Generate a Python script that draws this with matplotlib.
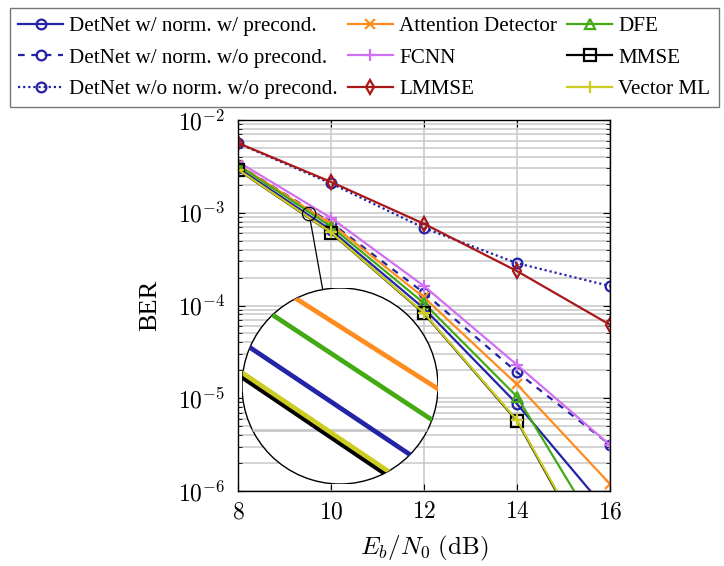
import numpy as np
import matplotlib
matplotlib.use("Agg")
import matplotlib.pyplot as plt
from matplotlib.patches import Ellipse
from matplotlib.lines import Line2D
from matplotlib.ticker import FixedLocator, FuncFormatter, LogLocator, NullFormatter

plt.rcParams['font.family'] = 'serif'
plt.rcParams['font.serif'] = ['Liberation Serif', 'DejaVu Serif']
plt.rcParams['mathtext.fontset'] = 'cm'

# Eb/N0 (dB)
snr = [8, 10, 12, 14, 16]

# BER per detector
detnet_norm_pre = [3.05e-3, 6.5e-4, 9.3e-5, 8.7e-6, 5.6e-7]
detnet_norm_nopre = [3.3e-3, 7.8e-4, 1.37e-4, 1.91e-5, 3.15e-6]
detnet_nonorm_nopre = [5.6e-3, 2.07e-3, 6.85e-4, 2.86e-4, 1.62e-4]
attention = [3.3e-3, 7.6e-4, 1.22e-4, 1.41e-5, 1.19e-6]
fcnn = [3.55e-3, 8.8e-4, 1.62e-4, 2.29e-5, 3.13e-6]
lmmse = [5.65e-3, 2.15e-3, 7.6e-4, 2.35e-4, 6.2e-5]
dfe = [3.25e-3, 7.1e-4, 1.06e-4, 1.04e-5, 2.3e-7]
mmse = [2.9e-3, 6.1e-4, 8.2e-5, 5.7e-6, 9.0e-8]
vector_ml = [2.92e-3, 6.15e-4, 8.3e-5, 5.8e-6, 9.5e-8]

blue = '#2323a8'
series = [
    (detnet_norm_pre, 'DetNet w/ norm. w/ precond.', blue, '-', 'o'),
    (detnet_norm_nopre, 'DetNet w/ norm. w/o precond.', blue, (0, (3, 3)), 'o'),
    (detnet_nonorm_nopre, 'DetNet w/o norm. w/o precond.', blue, (0, (1, 1.3)), 'o'),
    (attention, 'Attention Detector', '#ff8c1e', '-', 'x'),
    (fcnn, 'FCNN', '#d070f0', '-', '+'),
    (lmmse, 'LMMSE', '#a81818', '-', 'd'),
    (dfe, 'DFE', '#44aa14', '-', '^'),
    (mmse, 'MMSE', 'black', '-', 's'),
    (vector_ml, 'Vector ML', '#cccc22', '-', '+'),
]
# curves shown in the magnified circle
inset_curves = [7, 8, 0, 6, 3]

W, H = 724, 566
fig = plt.figure(figsize=(W / 100, H / 100), dpi=100)
# axes box in pixels
x0, x1, y0, y1 = 238, 610, 120, 491
ax = fig.add_axes([x0 / W, 1 - y1 / H, (x1 - x0) / W, (y1 - y0) / H])

handles = []
for vals, lab, col, ls, mk in series:
    ms = 8.5 if mk in ('+', 's') else 7
    h, = ax.plot(snr, vals, color=col, linestyle=ls, marker=mk, markersize=ms,
                 markerfacecolor='none', markeredgewidth=1.6, linewidth=1.6, label=lab)
    handles.append(h)

ax.set_yscale('log')
ax.set_xlim(8, 16)
ax.set_ylim(1e-6, 1e-2)
ax.xaxis.set_major_locator(FixedLocator([8, 10, 12, 14, 16]))
ax.xaxis.set_major_formatter(FuncFormatter(lambda v, p: r'$%d$' % v))
ax.yaxis.set_major_locator(LogLocator(base=10, numticks=10))
ax.yaxis.set_minor_locator(LogLocator(base=10, subs=np.arange(2, 10), numticks=10))
ax.yaxis.set_major_formatter(FuncFormatter(lambda v, p: r'$10^{%d}$' % round(np.log10(v))))
ax.yaxis.set_minor_formatter(NullFormatter())
ax.tick_params(which='both', direction='in', top=True, right=True, labelsize=17)
ax.tick_params(axis='x', pad=8)
ax.tick_params(axis='y', pad=9)
ax.tick_params(which='major', length=5)
ax.tick_params(which='minor', length=3)
ax.grid(True, which='major', axis='both', color='#c8c8c8', linewidth=1.1)
ax.grid(True, which='minor', axis='y', color='#c8c8c8', linewidth=1.1)
ax.set_axisbelow(True)
for s in ax.spines.values():
    s.set_linewidth(1.0)
ax.set_xlabel(r'$E_b/N_0\ \mathrm{(dB)}$', fontsize=18, labelpad=8)
ax.set_ylabel('BER', fontsize=19, labelpad=12)

# zoom circle
zx, zy, mag = 9.53, 9.7e-4, 14.6
R = 98
cx = x0 + (zx - 8) / 8 * (x1 - x0)
cy = y1 - (np.log10(zy) + 6) / 4 * (y1 - y0)
Bx, By = 340, 386

hx = R / mag / (x1 - x0) * 8
hy = R / mag / (y1 - y0) * 4
ax_in = fig.add_axes([(Bx - R) / W, 1 - (By + R) / H, 2 * R / W, 2 * R / H], zorder=5)
ax_in.set_xlim(zx - hx, zx + hx)
ax_in.set_yscale('log')
ax_in.set_ylim(zy / 10 ** hy, zy * 10 ** hy)
ax_in.axis('off')
disk = Ellipse((0.5, 0.5), 1, 1, transform=ax_in.transAxes, facecolor='white',
               edgecolor='black', linewidth=1.0, zorder=0)
ax_in.add_patch(disk)
clip = Ellipse((0.5, 0.5), 1, 1, transform=ax_in.transAxes)
for gy in np.arange(1, 10) * 1e-4:
    l = ax_in.axhline(gy, color='#c8c8c8', linewidth=2.0, zorder=1)
    l.set_clip_path(clip)
for k, i in enumerate(inset_curves):
    vals, lab, col, ls, mk = series[i]
    l, = ax_in.plot(snr, vals, color=col, linestyle=ls, linewidth=3.4, zorder=2 + k)
    l.set_clip_path(clip)

# small circle and connector
r = R / mag
fig.add_artist(Ellipse((cx / W, 1 - cy / H), 2 * r / W, 2 * r / H, transform=fig.transFigure,
                       facecolor='none', edgecolor='black', linewidth=0.9, zorder=6))
d = np.array([Bx - cx, By - cy])
d = d / np.hypot(*d)
p1 = np.array([cx, cy]) + d * r
p2 = np.array([Bx, By]) - d * R
fig.add_artist(Line2D([p1[0] / W, p2[0] / W], [1 - p1[1] / H, 1 - p2[1] / H],
                      transform=fig.transFigure, color='black', linewidth=0.9, zorder=6))

leg = fig.legend(handles=handles, loc='upper left', bbox_to_anchor=(10 / W, 1 - 8 / H),
                 ncol=3, fontsize=15.2, frameon=True, fancybox=False, edgecolor='#555555',
                 handlelength=2.1, handletextpad=0.3, columnspacing=0.5,
                 labelspacing=0.55, borderaxespad=0, borderpad=0.4)
leg.get_frame().set_linewidth(1.0)

fig.savefig('out.png', dpi=100)
